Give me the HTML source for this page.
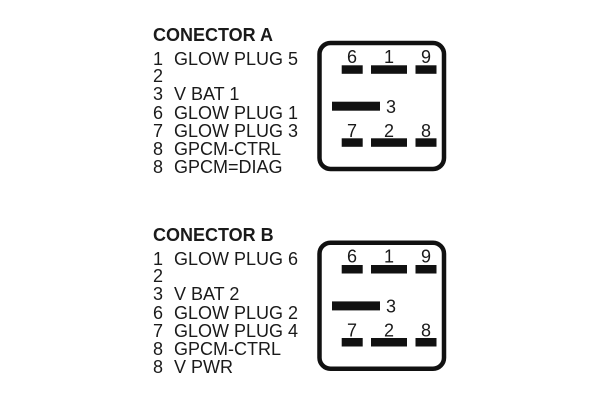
<!DOCTYPE html>
<html><head><meta charset="utf-8"><style>html,body{margin:0;padding:0;background:#fff}svg{display:block}text{font-family:"Liberation Sans",Arial,sans-serif;fill:#1a1a1a}</style></head><body>
<svg width="600" height="400" viewBox="0 0 600 400" xmlns="http://www.w3.org/2000/svg">
<g font-size="18">
<text x="153" y="41" font-weight="bold">CONECTOR A</text>
<text x="153" y="65">1</text><text x="174" y="65">GLOW PLUG 5</text>
<text x="153" y="82">2</text>
<text x="153" y="100">3</text><text x="174" y="100">V BAT 1</text>
<text x="153" y="119">6</text><text x="174" y="119">GLOW PLUG 1</text>
<text x="153" y="137">7</text><text x="174" y="137">GLOW PLUG 3</text>
<text x="153" y="155">8</text><text x="174" y="155">GPCM-CTRL</text>
<text x="153" y="173">8</text><text x="174" y="173">GPCM=DIAG</text>
<rect x="319.5" y="43" width="124.5" height="126" rx="11" fill="none" stroke="#111" stroke-width="4.5"/>
<rect x="341.7" y="65.3" width="21" height="8.5" fill="#111"/><rect x="371" y="65.3" width="36" height="8.5" fill="#111"/><rect x="415.5" y="65.3" width="21" height="8.5" fill="#111"/>
<rect x="332" y="101.7" width="48" height="9" fill="#111"/>
<rect x="341.7" y="138.3" width="21" height="8.5" fill="#111"/><rect x="371" y="138.3" width="36" height="8.5" fill="#111"/><rect x="415.5" y="138.3" width="21" height="8.5" fill="#111"/>
<text x="352" y="63" text-anchor="middle">6</text><text x="389" y="63" text-anchor="middle">1</text><text x="426" y="63" text-anchor="middle">9</text>
<text x="391" y="113" text-anchor="middle">3</text>
<text x="352" y="137" text-anchor="middle">7</text><text x="389" y="137" text-anchor="middle">2</text><text x="426" y="137" text-anchor="middle">8</text>

<text x="153" y="241" font-weight="bold">CONECTOR B</text>
<text x="153" y="265">1</text><text x="174" y="265">GLOW PLUG 6</text>
<text x="153" y="282">2</text>
<text x="153" y="300">3</text><text x="174" y="300">V BAT 2</text>
<text x="153" y="319">6</text><text x="174" y="319">GLOW PLUG 2</text>
<text x="153" y="337">7</text><text x="174" y="337">GLOW PLUG 4</text>
<text x="153" y="355">8</text><text x="174" y="355">GPCM-CTRL</text>
<text x="153" y="373">8</text><text x="174" y="373">V PWR</text>
<g transform="translate(0 199.7)">
<rect x="319.5" y="43" width="124.5" height="126" rx="11" fill="none" stroke="#111" stroke-width="4.5"/>
<rect x="341.7" y="65.3" width="21" height="8.5" fill="#111"/><rect x="371" y="65.3" width="36" height="8.5" fill="#111"/><rect x="415.5" y="65.3" width="21" height="8.5" fill="#111"/>
<rect x="332" y="101.7" width="48" height="9" fill="#111"/>
<rect x="341.7" y="138.3" width="21" height="8.5" fill="#111"/><rect x="371" y="138.3" width="36" height="8.5" fill="#111"/><rect x="415.5" y="138.3" width="21" height="8.5" fill="#111"/>
<text x="352" y="63" text-anchor="middle">6</text><text x="389" y="63" text-anchor="middle">1</text><text x="426" y="63" text-anchor="middle">9</text>
<text x="391" y="113" text-anchor="middle">3</text>
<text x="352" y="137" text-anchor="middle">7</text><text x="389" y="137" text-anchor="middle">2</text><text x="426" y="137" text-anchor="middle">8</text>
</g>
</g>
</svg>
</body></html>
